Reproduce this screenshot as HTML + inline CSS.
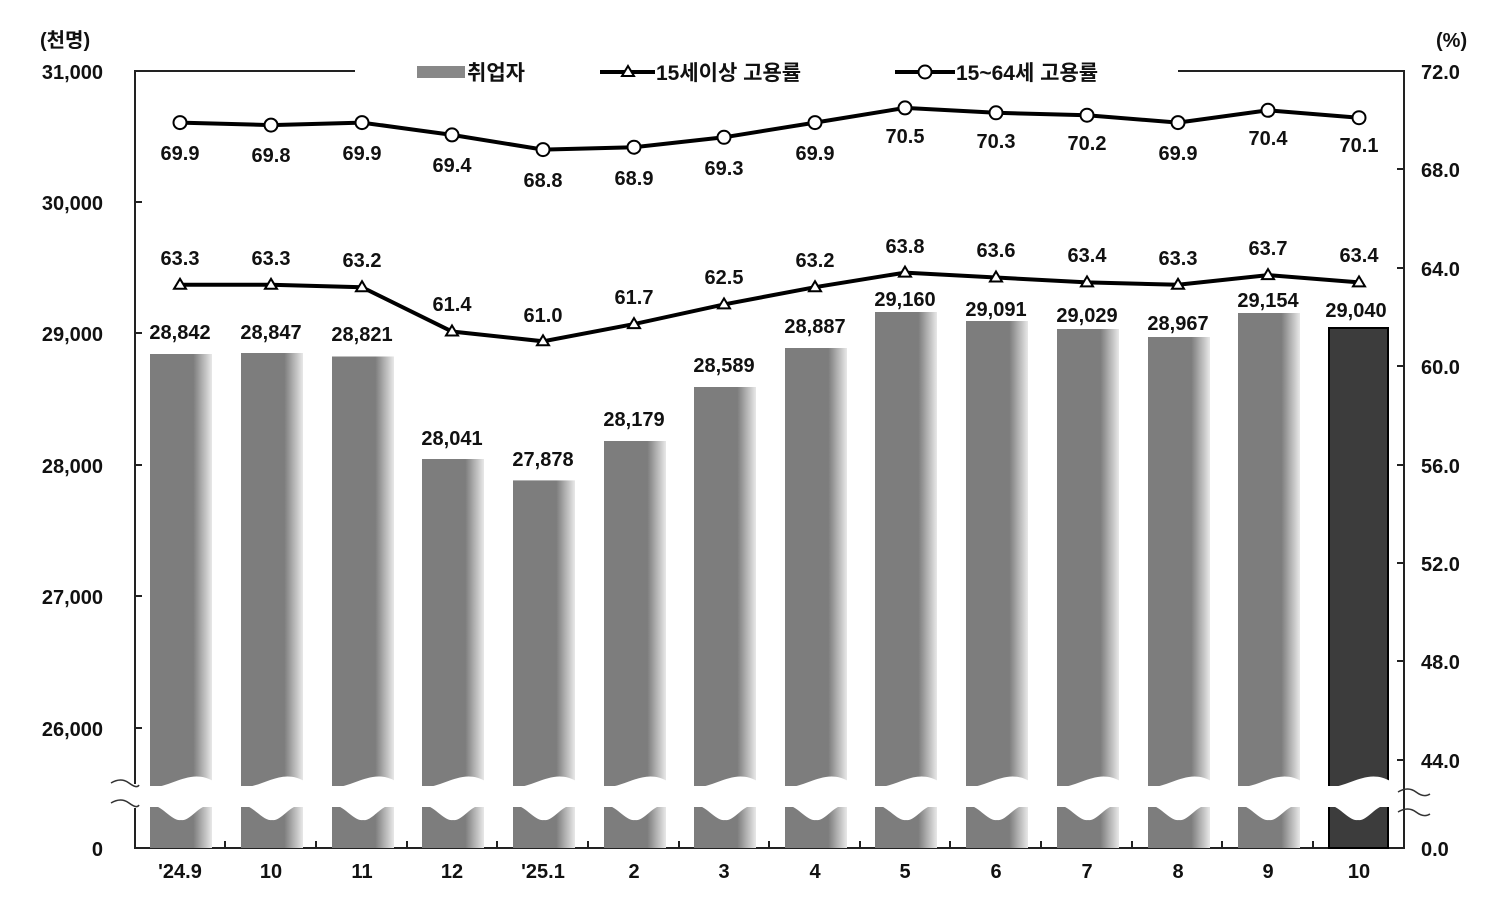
<!DOCTYPE html>
<html><head><meta charset="utf-8"><style>
body{margin:0;background:#fff}
svg{display:block}
text{font-family:"Liberation Sans","Noto Sans CJK KR",sans-serif;font-weight:bold;fill:#111}
</style></head><body>
<svg width="1504" height="919" viewBox="0 0 1504 919" xmlns="http://www.w3.org/2000/svg">
<defs>
<linearGradient id="g" x1="0" x2="1" y1="0" y2="0">
<stop offset="0" stop-color="#7d7d7d"/><stop offset="0.7" stop-color="#7d7d7d"/><stop offset="1" stop-color="#e8e8e8"/></linearGradient>
<path id="w" d="M-34,787 C-10,790 8,766 34,782 L34,806 C20,800 10,822 0,820 C-10,822 -22,800 -34,806 Z" fill="#fff"/>
</defs>
<polyline points="355,71 135,71 135,848 1404,848 1404,71 1178,71" fill="none" stroke="#222" stroke-width="2"/>
<g stroke="#222" stroke-width="2">
<line x1="135" y1="202" x2="142" y2="202"/><line x1="135" y1="333" x2="142" y2="333"/><line x1="135" y1="465" x2="142" y2="465"/><line x1="135" y1="596" x2="142" y2="596"/><line x1="135" y1="728" x2="142" y2="728"/>
<line x1="1397" y1="169" x2="1404" y2="169"/><line x1="1397" y1="268" x2="1404" y2="268"/><line x1="1397" y1="366" x2="1404" y2="366"/><line x1="1397" y1="465" x2="1404" y2="465"/><line x1="1397" y1="563" x2="1404" y2="563"/><line x1="1397" y1="661" x2="1404" y2="661"/><line x1="1397" y1="760" x2="1404" y2="760"/>
</g>
<g fill="url(#g)">
<rect x="150" y="354" width="62" height="494"/>
<rect x="241" y="353" width="62" height="495"/>
<rect x="332" y="356.5" width="62" height="491.5"/>
<rect x="422" y="459" width="62" height="389"/>
<rect x="513" y="480.4" width="62" height="367.6"/>
<rect x="604" y="441" width="62" height="407"/>
<rect x="694" y="387" width="62" height="461"/>
<rect x="785" y="348" width="62" height="500"/>
<rect x="875" y="312" width="62" height="536"/>
<rect x="966" y="321" width="62" height="527"/>
<rect x="1057" y="329" width="62" height="519"/>
<rect x="1148" y="337" width="62" height="511"/>
<rect x="1238" y="313" width="62" height="535"/>
</g>
<rect x="1329" y="328" width="59" height="520" fill="#3c3c3c" stroke="#000" stroke-width="2"/>
<g fill="#fff">
<rect x="137" y="786" width="1265" height="21"/>
<rect x="132" y="784" width="6" height="24"/>
</g>
<use href="#w" x="181"/><use href="#w" x="272"/><use href="#w" x="363"/><use href="#w" x="453"/><use href="#w" x="544"/><use href="#w" x="635"/><use href="#w" x="725"/><use href="#w" x="816"/><use href="#w" x="906"/><use href="#w" x="997"/><use href="#w" x="1088"/><use href="#w" x="1179"/><use href="#w" x="1269"/><use href="#w" x="1358"/>
<g fill="none" stroke="#333" stroke-width="1.5">
<path d="M111,783 q10,-6 18,0 t10,2"/><path d="M111,803 q10,-6 18,0 t10,2"/>
<path d="M1398,792 q10,-6 18,0 t14,2"/><path d="M1398,812 q10,-6 18,0 t14,2"/>
</g>
<g stroke="#222" stroke-width="2">
<line x1="225" y1="848" x2="225" y2="841"/><line x1="316" y1="848" x2="316" y2="841"/><line x1="407" y1="848" x2="407" y2="841"/><line x1="497" y1="848" x2="497" y2="841"/><line x1="588" y1="848" x2="588" y2="841"/><line x1="679" y1="848" x2="679" y2="841"/><line x1="769" y1="848" x2="769" y2="841"/><line x1="860" y1="848" x2="860" y2="841"/><line x1="950" y1="848" x2="950" y2="841"/><line x1="1041" y1="848" x2="1041" y2="841"/><line x1="1132" y1="848" x2="1132" y2="841"/><line x1="1222" y1="848" x2="1222" y2="841"/><line x1="1313" y1="848" x2="1313" y2="841"/>
</g>
<polyline fill="none" stroke="#000" stroke-width="4" points="180,122.6 271,125.1 362,122.6 452,134.9 543,149.6 634,147.2 724,137.3 815,122.6 905,107.9 996,112.8 1087,115.2 1178,122.6 1268,110.3 1359,117.7"/>
<g fill="#fff" stroke="#000" stroke-width="2">
<circle cx="180" cy="122.6" r="6.5"/><circle cx="271" cy="125.1" r="6.5"/><circle cx="362" cy="122.6" r="6.5"/><circle cx="452" cy="134.9" r="6.5"/><circle cx="543" cy="149.6" r="6.5"/><circle cx="634" cy="147.2" r="6.5"/><circle cx="724" cy="137.3" r="6.5"/><circle cx="815" cy="122.6" r="6.5"/><circle cx="905" cy="107.9" r="6.5"/><circle cx="996" cy="112.8" r="6.5"/><circle cx="1087" cy="115.2" r="6.5"/><circle cx="1178" cy="122.6" r="6.5"/><circle cx="1268" cy="110.3" r="6.5"/><circle cx="1359" cy="117.7" r="6.5"/>
</g>
<polyline fill="none" stroke="#000" stroke-width="4" points="180,284.8 271,284.8 362,287.2 452,331.5 543,341.3 634,324.1 724,304.4 815,287.2 905,272.6 996,277.5 1087,282.4 1178,284.8 1268,275.1 1359,282.4"/>
<g fill="#fff" stroke="#000" stroke-width="2">
<path d="M180,278.8 l6,10 h-12z"/><path d="M271,278.8 l6,10 h-12z"/><path d="M362,281.2 l6,10 h-12z"/><path d="M452,325.5 l6,10 h-12z"/><path d="M543,335.3 l6,10 h-12z"/><path d="M634,318.1 l6,10 h-12z"/><path d="M724,298.4 l6,10 h-12z"/><path d="M815,281.2 l6,10 h-12z"/><path d="M905,266.6 l6,10 h-12z"/><path d="M996,271.5 l6,10 h-12z"/><path d="M1087,276.4 l6,10 h-12z"/><path d="M1178,278.8 l6,10 h-12z"/><path d="M1268,269.1 l6,10 h-12z"/><path d="M1359,276.4 l6,10 h-12z"/>
</g>
<g font-size="20" text-anchor="middle">
<text x="180" y="160">69.9</text><text x="271" y="162">69.8</text><text x="362" y="160">69.9</text><text x="452" y="172">69.4</text><text x="543" y="187">68.8</text><text x="634" y="185">68.9</text><text x="724" y="175">69.3</text><text x="815" y="160">69.9</text><text x="905" y="143">70.5</text><text x="996" y="148">70.3</text><text x="1087" y="150">70.2</text><text x="1178" y="160">69.9</text><text x="1268" y="145">70.4</text><text x="1359" y="152">70.1</text>
<text x="180" y="265">63.3</text><text x="271" y="265">63.3</text><text x="362" y="267">63.2</text><text x="452" y="311">61.4</text><text x="543" y="322">61.0</text><text x="634" y="304">61.7</text><text x="724" y="284">62.5</text><text x="815" y="267">63.2</text><text x="905" y="253">63.8</text><text x="996" y="257">63.6</text><text x="1087" y="262">63.4</text><text x="1178" y="265">63.3</text><text x="1268" y="255">63.7</text><text x="1359" y="262">63.4</text>
</g>
<g font-size="20" text-anchor="middle" font-weight="normal">
<text x="180" y="339">28,842</text><text x="271" y="339">28,847</text><text x="362" y="341">28,821</text><text x="452" y="445">28,041</text><text x="543" y="466">27,878</text><text x="634" y="426">28,179</text><text x="724" y="372">28,589</text><text x="815" y="333">28,887</text><text x="905" y="306">29,160</text><text x="996" y="316">29,091</text><text x="1087" y="322">29,029</text><text x="1178" y="330">28,967</text><text x="1268" y="307">29,154</text><text x="1356" y="317">29,040</text>
</g>
<g font-size="20" text-anchor="end">
<text x="103" y="79">31,000</text><text x="103" y="210">30,000</text><text x="103" y="341">29,000</text><text x="103" y="473">28,000</text><text x="103" y="604">27,000</text><text x="103" y="736">26,000</text><text x="103" y="856">0</text>
</g>
<g font-size="20">
<text x="1421" y="79">72.0</text><text x="1421" y="177">68.0</text><text x="1421" y="276">64.0</text><text x="1421" y="374">60.0</text><text x="1421" y="473">56.0</text><text x="1421" y="571">52.0</text><text x="1421" y="669">48.0</text><text x="1421" y="768">44.0</text><text x="1421" y="856">0.0</text>
<text x="40" y="47">(천명)</text><text x="1436" y="47">(%)</text>
</g>
<g font-size="20" text-anchor="middle">
<text x="180" y="878">'24.9</text><text x="271" y="878">10</text><text x="362" y="878">11</text><text x="452" y="878">12</text><text x="543" y="878">'25.1</text><text x="634" y="878">2</text><text x="724" y="878">3</text><text x="815" y="878">4</text><text x="905" y="878">5</text><text x="996" y="878">6</text><text x="1087" y="878">7</text><text x="1178" y="878">8</text><text x="1268" y="878">9</text><text x="1359" y="878">10</text>
</g>
<rect x="417" y="66" width="48" height="12" fill="#888"/>
<text x="467" y="80" font-size="21">취업자</text>
<line x1="600" y1="72" x2="655" y2="72" stroke="#000" stroke-width="4"/>
<path d="M628,66 l6,10 h-12z" fill="#fff" stroke="#000" stroke-width="2"/>
<text x="656" y="80" font-size="21">15세이상 고용률</text>
<line x1="895" y1="72" x2="955" y2="72" stroke="#000" stroke-width="4"/>
<circle cx="925" cy="72" r="6.5" fill="#fff" stroke="#000" stroke-width="2"/>
<text x="956" y="80" font-size="21">15~64세 고용률</text>
</svg>
</body></html>
